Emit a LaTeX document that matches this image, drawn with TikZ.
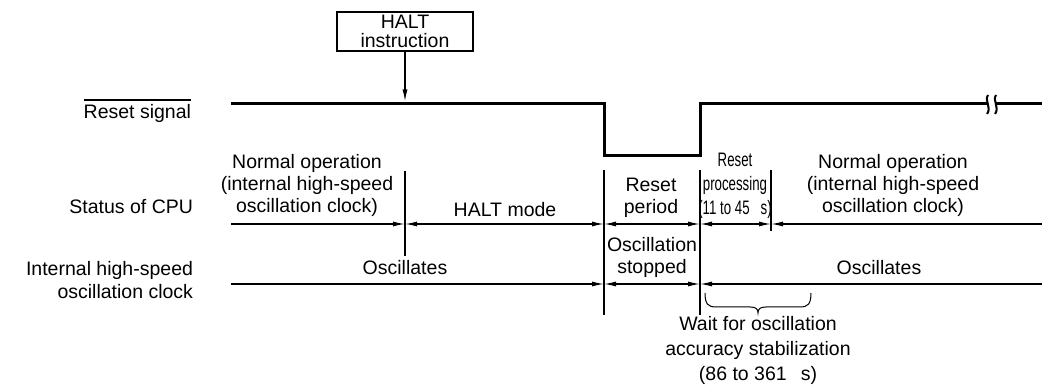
\documentclass[tikz,border=0pt]{standalone}
\usepackage{fontspec}
\setmainfont{Liberation Sans}
\newfontfamily\narrowfont[FakeStretch=0.68]{Liberation Sans}
\usetikzlibrary{arrows.meta}
\begin{document}
\begin{tikzpicture}[x=1pt,y=-1pt,
  every node/.style={inner sep=0pt,outer sep=0pt,font=\fontsize{19.5}{22}\selectfont},
  thin line/.style={line width=1.3pt},
  sig/.style={line width=3pt},
  tip/.style={-{Latex[length=12pt,width=5pt]}},
  tipb/.style={{Latex[length=12pt,width=5pt]}-{Latex[length=12pt,width=5pt]}},
  tips/.style={{Latex[length=12pt,width=5pt]}-},
  lbl/.style={align=center},
  rlbl/.style={align=right,anchor=east}]
\useasboundingbox (0,0) rectangle (1042,387);

% HALT box
\draw[thin line] (337,12) rectangle (473,51);
\node[lbl,font=\fontsize{19.5}{19.5}\selectfont] (halt) at (405,31.5) {HALT\\instruction};
\coordinate (hb) at (405,51);
\coordinate (hp) at (405,101.5);
\draw[thin line,tip] (hb) -- (hp);

% reset signal
\coordinate (r0) at (231,104);
\coordinate (r1) at (604,104);
\coordinate (r2) at (604,156);
\coordinate (r3) at (700,156);
\coordinate (r4) at (700,104);
\coordinate (r5) at (987,104);
\coordinate (r6) at (996,104);
\coordinate (r7) at (1042,104);
\draw[sig,line join=miter] (r0) -- (r1) -- (r2) -- (r3) -- (r4) -- (r5);
\draw[sig] (r6) -- (r7);
\draw[line width=2pt] (988,95) .. controls (984,101) and (992,107) .. (987,114);
\draw[line width=2pt] (996,95) .. controls (992,101) and (1000,107) .. (995,114);

% row labels
\node[rlbl] (rs) at (191,113) {Reset signal};
\draw[thin line] ([yshift=4pt]rs.north west) -- ([yshift=4pt]rs.north east);
\node[rlbl] (cpu) at (193,207) {Status of CPU};
\node[rlbl,font=\fontsize{19.5}{23}\selectfont] (clk) at (193,280) {Internal high-speed\\oscillation clock};

% vertical markers
\coordinate (va) at (405,171); \coordinate (vb) at (405,256);
\coordinate (vc) at (604,170); \coordinate (vd) at (604,315);
\coordinate (ve) at (700,170); \coordinate (vf) at (700,315);
\coordinate (vg) at (771,170); \coordinate (vh) at (771,231);
\draw[thin line] (va) -- (vb);
\draw[thin line] (vc) -- (vd);
\draw[thin line] (ve) -- (vf);
\draw[thin line] (vg) -- (vh);

% status row
\coordinate (s0) at (231,224); \coordinate (s1) at (405,224);
\coordinate (s2) at (604,224); \coordinate (s3) at (700,224);
\coordinate (s4) at (771,224); \coordinate (s5) at (1042,224);
\draw[thin line,tip] (s0) -- (s1);
\draw[thin line,tipb] (s1) -- (s2);
\draw[thin line,tipb] (s2) -- (s3);
\draw[thin line,tipb] (s3) -- (s4);
\draw[thin line,tips] (s4) -- (s5);

% clock row
\coordinate (c0) at (231,284); \coordinate (c1) at (604,284);
\coordinate (c2) at (700,284); \coordinate (c3) at (1042,284);
\draw[thin line,tip] (c0) -- (c1);
\draw[thin line,tipb] (c1) -- (c2);
\draw[thin line,tips] (c2) -- (c3);

% status texts
\node[lbl] (n1) at (307,185) {Normal operation\\(internal high-speed\\oscillation clock)};
\node[lbl] (hm) at (505,210) {HALT mode};
\node[lbl] (rp) at (651,198) {Reset\\period};
\node[lbl,font=\narrowfont\fontsize{19.5}{24}\selectfont] (rpr) at (735,186) {Reset\\processing\\(11 to 45\hspace{11pt}s)};
\node[lbl] (n2) at (893,185) {Normal operation\\(internal high-speed\\oscillation clock)};

% clock texts
\node[lbl] (o1) at (405,268) {Oscillates};
\node[lbl] (os) at (652,257) {Oscillation\\stopped};
\node[lbl] (o2) at (879,268) {Oscillates};

% brace
\coordinate (b0) at (705,293);
\coordinate (bt) at (758,313);
\coordinate (b1) at (811,293);
\draw[line width=1pt] (b0) .. controls (705,304) and (708,307) .. (716,307) -- (750,307)
  .. controls (756,307) and (758,309) .. (bt)
  .. controls (758,309) and (760,307) .. (766,307) -- (800,307)
  .. controls (808,307) and (811,304) .. (b1);
\node[lbl,font=\fontsize{19.5}{25}\selectfont] (wt) at (758,350) {Wait for oscillation\\accuracy stabilization\\(86 to 361\hspace{14pt}s)};
\end{tikzpicture}
\end{document}
